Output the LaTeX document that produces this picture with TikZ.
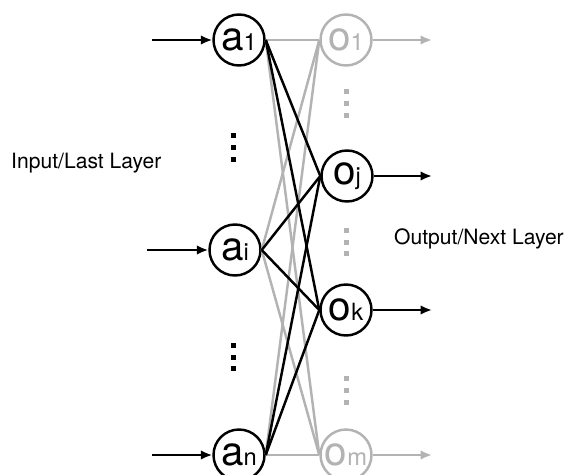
\documentclass[tikz,border=0pt]{standalone}
\usepackage{fontspec}
\setmainfont{TeX Gyre Heros}
\usetikzlibrary{arrows.meta}
\definecolor{lightgrey}{HTML}{B3B3B3}

\newcommand{\unitlbl}[2]{{\fontsize{23}{23}\selectfont #1}{\fontsize{13.5}{13.5}\selectfont #2}}

\begin{document}
\begin{tikzpicture}[x=0.02cm, y=0.02cm, >={Latex[length=6.5pt, width=5.5pt]}, line width=1.4pt,
  neuron/.style={circle, draw, fill=white, minimum size=1.02cm, inner sep=0pt},
  faded/.style={draw=lightgrey, text=lightgrey},
  fadedlink/.style={lightgrey},
  layerlbl/.style={anchor=west, inner sep=0pt, font=\fontsize{12}{14}\selectfont}]
  \useasboundingbox (0,0) rectangle (564,474);

  % Input layer
  \node[neuron] (a1) at (239,434) {\unitlbl{a}{1}};
  \node[neuron] (ai) at (235,224) {\unitlbl{a}{i}};
  \node[neuron] (an) at (239,19) {\unitlbl{a}{n}};

  % Output layer
  \node[neuron, faded] (o1) at (346,434) {\unitlbl{o}{1}};
  \node[neuron] (oj) at (347,298) {\unitlbl{o}{j}};
  \node[neuron] (ok) at (346,164) {\unitlbl{o}{k}};
  \node[neuron, faded] (om) at (346,19) {\unitlbl{o}{m}};

  % Weights (grey first, black on top)
  \foreach \s in {a1,ai,an} {
    \draw[fadedlink] (\s.east) -- (o1.west);
    \draw[fadedlink] (\s.east) -- (om.west);
  }
  \foreach \s in {a1,ai,an}
    \foreach \t in {oj,ok}
      \draw (\s.east) -- (\t.west);

  % Inputs
  \coordinate (in1) at (152,434);
  \coordinate (ini) at (147,224);
  \coordinate (inn) at (152,19);
  \draw[->] (in1) -- (a1);
  \draw[->] (ini) -- (ai);
  \draw[->] (inn) -- (an);

  % Outputs
  \coordinate (out1) at (432,434);
  \coordinate (outj) at (432,298);
  \coordinate (outk) at (432,164);
  \coordinate (outm) at (432,19);
  \draw[->, lightgrey] (o1) -- (out1);
  \draw[->] (oj) -- (outj);
  \draw[->] (ok) -- (outk);
  \draw[->, lightgrey] (om) -- (outm);

  % Dots
  \foreach \y in {135,147,159,345,357,368}
    \fill (233.5-2.5,474-\y-2.5) rectangle ++(5,5);
  \foreach \y in {92,104,116,230,242,253,378,390,402}
    \fill[lightgrey] (346-2.5,474-\y-2.5) rectangle ++(5,5);

  % Layer labels
  \node[layerlbl] (inlbl) at (10,311) {Input/Last Layer};
  \node[layerlbl] (outlbl) at (393,235) {Output/Next Layer};
\end{tikzpicture}
\end{document}
